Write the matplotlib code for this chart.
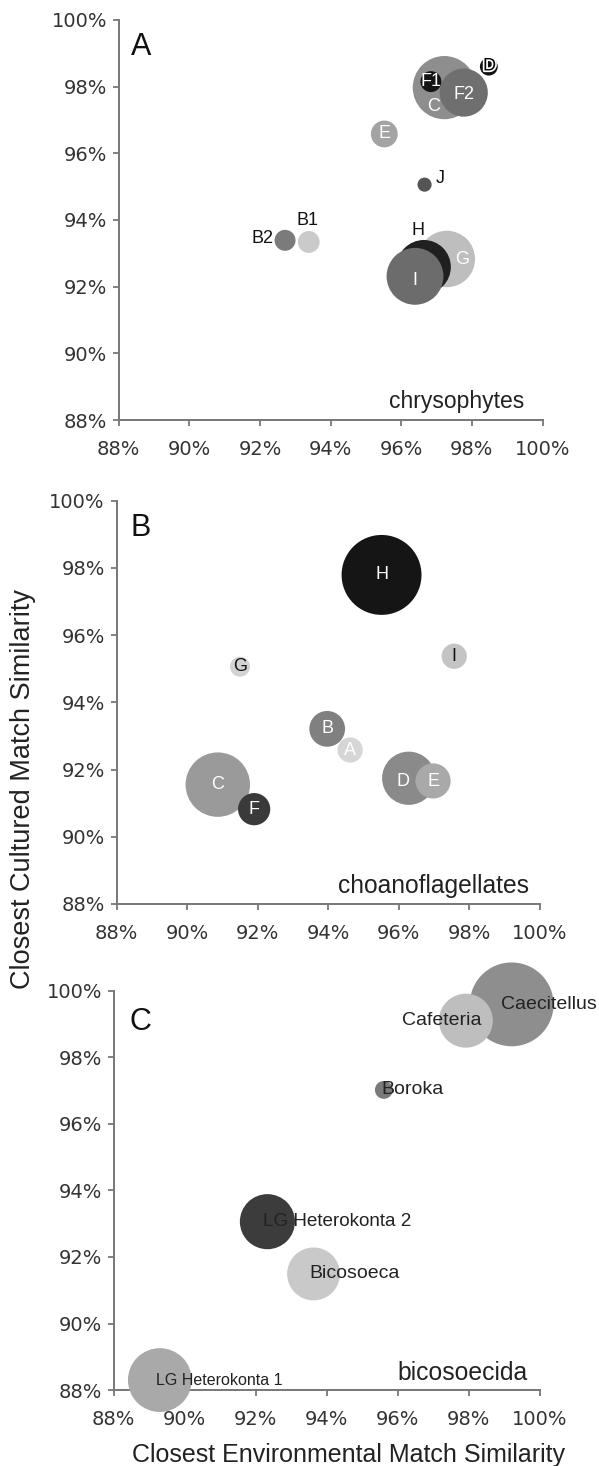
import matplotlib
matplotlib.use("Agg")
import matplotlib.pyplot as plt
import matplotlib.patheffects as pe
from matplotlib.ticker import FuncFormatter

# panel A - chrysophytes
chry_names = ["C", "F2", "F1", "D", "E", "J", "B2", "B1", "G", "H", "I"]
chry_env = [97.22, 97.77, 96.84, 98.48, 95.52, 96.66, 92.71, 93.38, 97.29, 96.64, 96.39]
chry_cult = [97.97, 97.82, 98.15, 98.60, 96.58, 95.06, 93.39, 93.34, 92.83, 92.59, 92.31]
chry_n = [100, 58, 11, 8, 18, 5, 11, 12, 80, 73, 81]

# panel B - choanoflagellates
choa_names = ["H", "I", "G", "B", "A", "C", "F", "D", "E"]
choa_env = [95.51, 97.57, 91.50, 93.97, 94.62, 90.87, 91.90, 96.28, 96.97]
choa_cult = [97.79, 95.37, 95.06, 93.21, 92.58, 91.55, 90.82, 91.74, 91.66]
choa_n = [160, 16, 10, 32, 16, 104, 26, 71, 31]

# panel C - bicosoecida
bico_names = ["Caecitellus", "Cafeteria", "Boroka", "LG Heterokonta 2", "Bicosoeca", "LG Heterokonta 1"]
bico_env = [99.21, 97.92, 95.61, 92.33, 93.63, 89.30]
bico_cult = [99.59, 99.10, 97.02, 93.06, 91.49, 88.30]
bico_n = [176, 73, 8, 76, 70, 102]

ticks = [88, 90, 92, 94, 96, 98, 100]

SIZE_SCALE = 20.7

plt.rcParams["font.family"] = ["Liberation Sans", "DejaVu Sans"]


def draw_panel(ax, env, cult, n, colors, letter, group, group_size, group_pos, letter_pos):
    ax.scatter(env, cult, s=[v * SIZE_SCALE for v in n], c=colors,
               edgecolors="none", clip_on=False, zorder=3)
    ax.set_xlim(88, 100)
    ax.set_ylim(88, 100)
    ax.set_xticks(ticks)
    ax.set_yticks(ticks)
    fmt = FuncFormatter(lambda v, p: "%d%%" % v)
    ax.xaxis.set_major_formatter(fmt)
    ax.yaxis.set_major_formatter(fmt)
    for side in ["top", "right"]:
        ax.spines[side].set_visible(False)
    for side in ["left", "bottom"]:
        ax.spines[side].set_color("#777777")
        ax.spines[side].set_linewidth(1.4)
    ax.tick_params(direction="out", length=4, width=1.3, color="#777777",
                   labelcolor="#333333", labelsize=14)
    ax.tick_params(axis="x", pad=10.5)
    ax.tick_params(axis="y", pad=4.5)
    for lab in ax.get_xticklabels() + ax.get_yticklabels():
        lab.set_fontfamily("DejaVu Sans")
    ax.text(letter_pos[0], letter_pos[1], letter, transform=ax.transAxes,
            fontsize=22, ha="left", va="baseline", color="#111111")
    ax.text(group_pos[0], group_pos[1], group, transform=ax.transAxes,
            fontsize=group_size, ha="right", va="baseline", color="#222222")


def label_points(ax, names, env, cult, offsets, colors, size, aligns=None, sizes=None):
    for i, name in enumerate(names):
        dx, dy = offsets[i]
        ha = aligns[i] if aligns else "center"
        fs = sizes[i] if sizes else size
        t = ax.annotate(name, (env[i], cult[i]), xytext=(dx, dy),
                        textcoords="offset points", ha=ha, va="center",
                        fontsize=fs, color=colors[i], zorder=5,
                        annotation_clip=False)
        if colors[i] == "black":
            # black letter with a white rim, sitting on a black bubble
            t.set_path_effects([pe.withStroke(linewidth=2.5, foreground="white")])


fig = plt.figure(figsize=(5.99, 14.66), dpi=100)

# panel A
axA = fig.add_axes([0.1982, 0.7135, 0.7075, 0.2729])
chry_colors = ["#8e8e8e", "#6f6f6f", "#141414", "#111111", "#a3a3a3", "#555555",
               "#7b7b7b", "#cacaca", "#bebebe", "#202020", "#6c6c6c"]
draw_panel(axA, chry_env, chry_cult, chry_n, chry_colors, "A", "chrysophytes",
           16.5, (0.957, 0.03), (0.029, 0.9125))
chry_off = [(-7.5, -13.7), (0.5, -1.5), (0, 0), (0.5, 0.5), (0, 0), (11, 4.5),
            (-16, 1.4), (-0.7, 15.3), (11, -0.7), (-4, 26.6), (0, -2.7)]
chry_tc = ["white", "white", "white", "black", "white", "#111111",
           "#111111", "#111111", "white", "#111111", "white"]
label_points(axA, chry_names, chry_env, chry_cult, chry_off, chry_tc, 13)

# panel B
axB = fig.add_axes([0.1945, 0.3834, 0.7070, 0.2751])
choa_colors = ["#151515", "#c4c4c4", "#d2d2d2", "#808080", "#d6d6d6",
               "#9a9a9a", "#3a3a3a", "#8a8a8a", "#a9a9a9"]
draw_panel(axB, choa_env, choa_cult, choa_n, choa_colors, "B", "choanoflagellates",
           17.7, (0.9745, 0.027), (0.032, 0.9125))
choa_off = [(0, 0), (0, 0), (0, 0), (0, 0), (0, 0), (0, 0), (0, 0), (-4, -2.4), (0, -0.5)]
choa_tc = ["white", "#111111", "#111111", "white", "white", "white", "white", "white", "white"]
label_points(axB, choa_names, choa_env, choa_cult, choa_off, choa_tc, 13)

# panel C
axC = fig.add_axes([0.1898, 0.0518, 0.7112, 0.2724])
bico_colors = ["#8e8e8e", "#bebebe", "#7a7a7a", "#3c3c3c", "#c9c9c9", "#a9a9a9"]
draw_panel(axC, bico_env, bico_cult, bico_n, bico_colors, "C", "bicosoecida",
           17.8, (0.971, 0.025), (0.036, 0.9016))
bico_off = [(-7.7, 0), (11.5, 0), (-2, 0), (-3, 0), (-2.7, 0), (-3, 0)]
bico_ha = ["left", "right", "left", "left", "left", "left"]
bico_fs = [14, 14, 14, 13.6, 14, 11.5]
label_points(axC, bico_names, bico_env, bico_cult, bico_off, ["#222222"] * 6, 14,
             aligns=bico_ha, sizes=bico_fs)

fig.text(23.5 / 599, 1 - 789 / 1466, "Closest Cultured Match Similarity",
         rotation=90, ha="center", va="center", fontsize=19.5, color="#222222")
fig.text(348.6 / 599, 1 - 1455 / 1466, "Closest Environmental Match Similarity",
         ha="center", va="center", fontsize=18, color="#222222")

fig.savefig("out.png", dpi=100, facecolor="white")
